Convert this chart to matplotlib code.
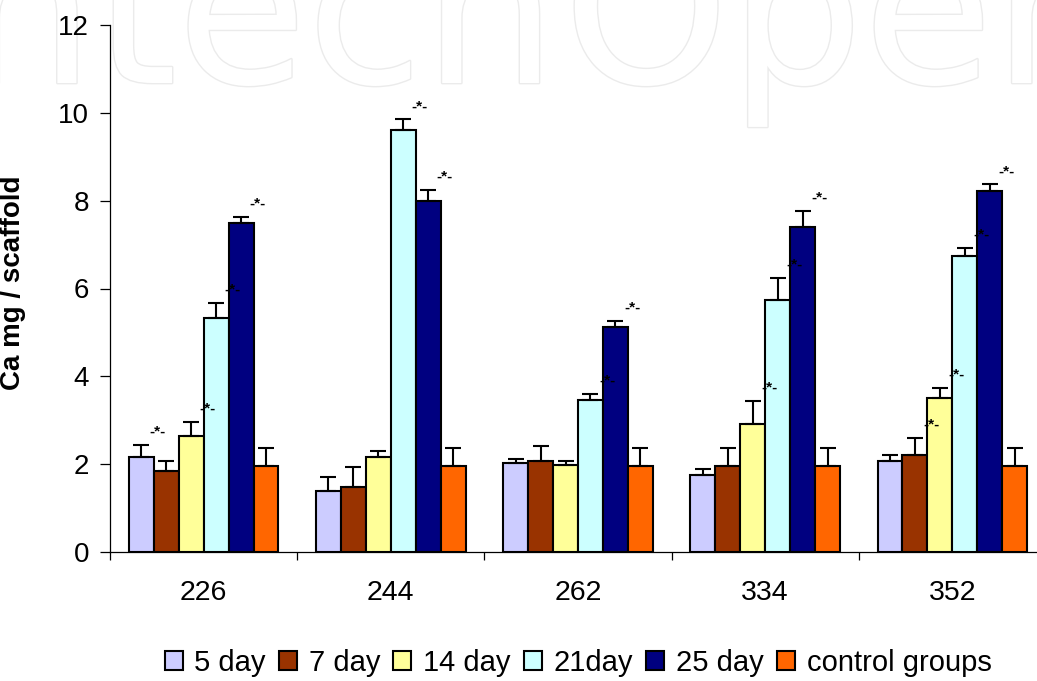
import matplotlib
matplotlib.use("Agg")
import matplotlib.pyplot as plt
import matplotlib.patheffects as pe
import numpy as np

plt.rcParams['font.family'] = ['Liberation Sans', 'DejaVu Sans']

categories = ['226', '244', '262', '334', '352']
series_names = ['5 day', '7 day', '14 day', '21day', '25 day', 'control groups']
colors = ['#CCCCFF', '#993300', '#FFFF99', '#CCFFFF', '#000080', '#FF6600']

day5 = [2.17, 1.38, 2.03, 1.76, 2.08]
day7 = [1.85, 1.48, 2.08, 1.95, 2.22]
day14 = [2.63, 2.17, 1.98, 2.91, 3.51]
day21 = [5.32, 9.62, 3.46, 5.73, 6.75]
day25 = [7.49, 7.99, 5.13, 7.39, 8.22]
control = [1.95, 1.95, 1.95, 1.95, 1.95]

err5 = [0.27, 0.32, 0.09, 0.14, 0.13]
err7 = [0.23, 0.46, 0.33, 0.41, 0.37]
err14 = [0.34, 0.14, 0.10, 0.52, 0.22]
err21 = [0.36, 0.23, 0.14, 0.51, 0.18]
err25 = [0.13, 0.25, 0.14, 0.37, 0.15]
errc = [0.42, 0.42, 0.42, 0.42, 0.42]

# series index (per category) that carry a significance mark
star_series = [[0, 2, 3, 4], [3, 4], [3, 4], [2, 3, 4], [1, 2, 3, 4]]

values = [day5, day7, day14, day21, day25, control]
errors = [err5, err7, err14, err21, err25, errc]

W, H = 1037, 681
fig = plt.figure(figsize=(W / 100, H / 100), dpi=100)

# faint watermark (behind everything)
wm_kw = dict(fontsize=152, color='white', zorder=-5, family='DejaVu Sans',
             path_effects=[pe.withStroke(linewidth=2.0, foreground='#ebebeb')])
fig.text(557 / W, 1 - 83 / H, 'Intech', ha='right', va='baseline', **wm_kw)
fig.text(563 / W, 1 - 83 / H, 'Open', ha='left', va='baseline', **wm_kw)

ax = fig.add_axes([110 / W, 1 - 552 / H, (1046 - 110) / W, (552 - 25) / H])
ax.set_facecolor('none')
ax.set_zorder(1)

x = np.arange(len(categories))
n = len(series_names)
bw = 0.8 / n
for i in range(n):
    xs = x - 0.4 + bw * (i + 0.5)
    ax.bar(xs, values[i], width=bw, color=colors[i], edgecolor='black',
           linewidth=1.5, label=series_names[i], zorder=2)
    ax.errorbar(xs, values[i], yerr=[np.zeros(len(x)), errors[i]], fmt='none',
                ecolor='black', elinewidth=1.5, capsize=5.5, capthick=1.5, zorder=3)

for g, sl in enumerate(star_series):
    for i in sl:
        xc = x[g] - 0.4 + bw * (i + 1) + 0.022
        yc = values[i][g] + errors[i][g] + 0.3
        ax.text(xc, yc, '-*-', ha='center', va='center', fontsize=11,
                fontweight='bold', color='black', zorder=4)

ax.set_xlim(-0.5, len(categories) - 0.5)
ax.set_ylim(0, 12)
ax.set_yticks(np.arange(0, 13, 2))
ax.tick_params(axis='y', direction='out', length=7, width=0.9, pad=8, labelsize=20)
ax.set_xticks(x)
ax.set_xticklabels(categories)
ax.set_xticks(np.arange(-0.5, len(categories)), minor=True)
ax.tick_params(axis='x', which='major', length=0, pad=20, labelsize=20.5)
ax.tick_params(axis='x', which='minor', direction='out', length=6, width=0.9)

for s in ['top', 'right']:
    ax.spines[s].set_visible(False)
for s in ['left', 'bottom']:
    ax.spines[s].set_linewidth(0.9)

ax.set_ylabel('Ca mg / scaffold', fontsize=20, fontweight='bold')
ax.yaxis.set_label_coords(-(110 - 26) / (1046 - 110), 0.51)

ax.legend(loc='center', bbox_to_anchor=(0.5, (552 - 663) / (552 - 25)),
          ncol=6, frameon=False, fontsize=21, handlelength=0.62, handleheight=0.62,
          handletextpad=0.4, columnspacing=0.45, borderpad=0)

fig.savefig('out.png', dpi=100)
